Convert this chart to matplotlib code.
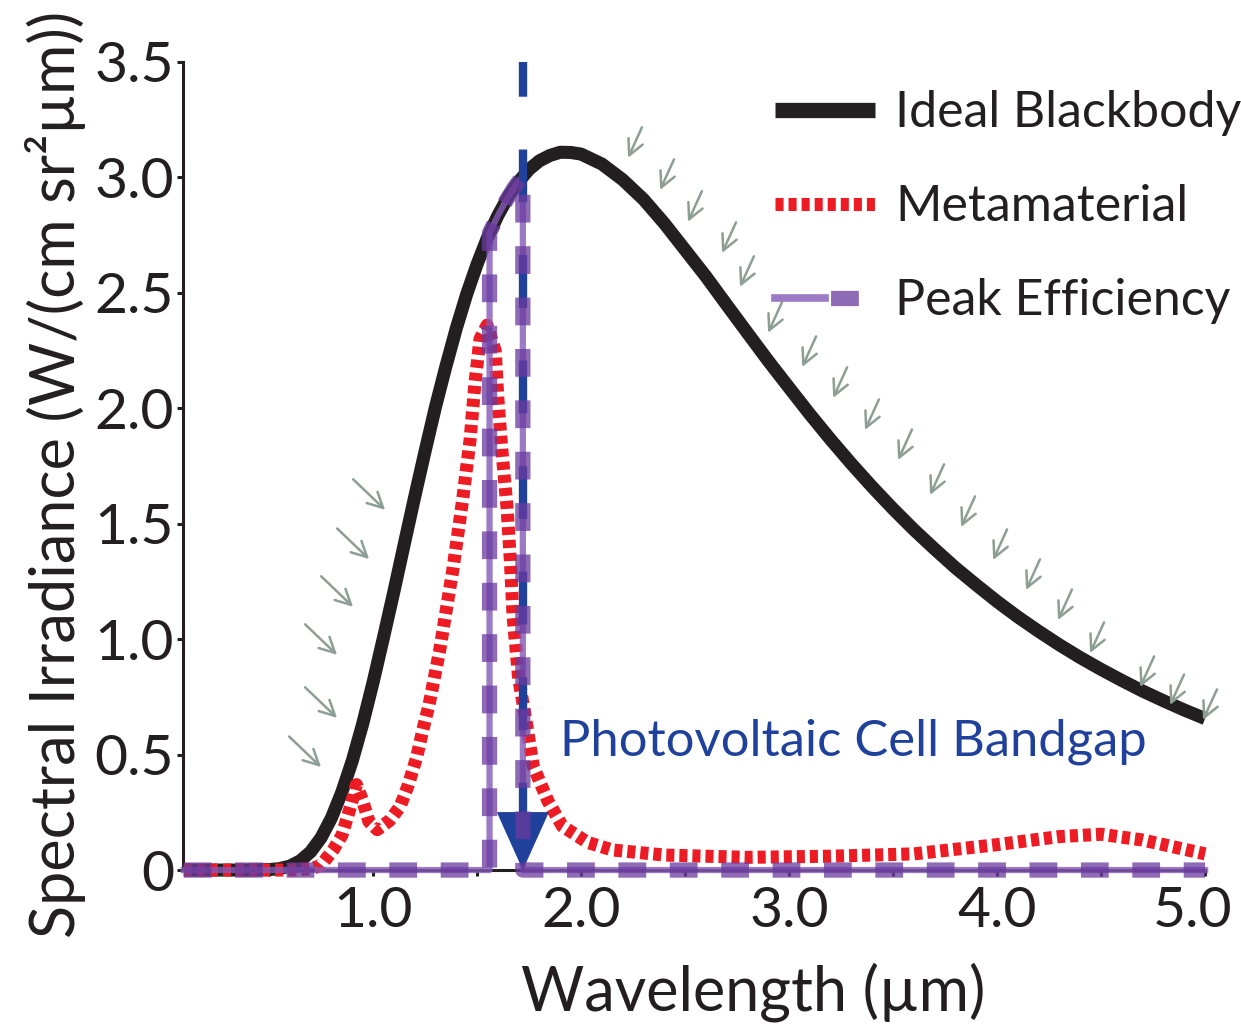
import matplotlib
matplotlib.use('Agg')
import matplotlib.pyplot as plt
from matplotlib.lines import Line2D
from matplotlib.legend_handler import HandlerTuple
from matplotlib.transforms import ScaledTranslation

plt.rcParams['font.family'] = ['Lato', 'DejaVu Sans']
plt.rcParams['lines.scale_dashes'] = False

# ideal blackbody curve (um, W/(cm^2 sr um))
bb_x = [0.09, 0.3, 0.4, 0.5, 0.55, 0.6, 0.65, 0.7, 0.75, 0.8, 0.85, 0.9, 0.95, 1.0,
        1.05, 1.1, 1.15, 1.2, 1.25, 1.3, 1.35, 1.4, 1.45, 1.5, 1.55, 1.6, 1.65, 1.7,
        1.75, 1.8, 1.85, 1.9, 1.95, 2.0, 2.1, 2.2, 2.3, 2.4, 2.5, 2.6, 2.7, 2.8, 2.9,
        3.0, 3.1, 3.2, 3.3, 3.4, 3.5, 3.6, 3.7, 3.8, 3.9, 4.0, 4.1, 4.2, 4.3, 4.4,
        4.5, 4.6, 4.7, 4.8, 4.9, 5.0]
bb_y = [0.0, 0.0, 0.0, 0.002, 0.006, 0.017, 0.040, 0.079, 0.140, 0.226, 0.338, 0.473, 0.633, 0.813,
        1.007, 1.206, 1.412, 1.616, 1.814, 2.006, 2.181, 2.346, 2.494, 2.624, 2.739, 2.835, 2.917, 2.982,
        3.035, 3.072, 3.095, 3.109, 3.108, 3.101, 3.058, 2.990, 2.905, 2.801, 2.686, 2.571, 2.448, 2.326, 2.205,
        2.089, 1.974, 1.864, 1.759, 1.659, 1.564, 1.474, 1.390, 1.309, 1.235, 1.163, 1.096, 1.034, 0.975, 0.920,
        0.869, 0.821, 0.775, 0.733, 0.693, 0.656]

# metamaterial emitter
mm_x = [0.09, 0.6, 0.7, 0.75, 0.81, 0.85, 0.89, 0.92, 0.95, 0.98, 1.02, 1.08, 1.13, 1.17,
        1.21, 1.24, 1.27, 1.32, 1.385, 1.43, 1.466, 1.49, 1.514, 1.548, 1.587, 1.60, 1.62,
        1.644, 1.66, 1.673, 1.70, 1.74, 1.77, 1.84, 1.91, 2.03, 2.15, 2.4, 2.8, 3.2, 3.6,
        4.0, 4.3, 4.5, 4.7, 5.0]
mm_y = [0.0, 0.0, 0.005, 0.02, 0.09, 0.15, 0.27, 0.37, 0.30, 0.21, 0.175, 0.215, 0.275, 0.37,
        0.49, 0.61, 0.72, 0.95, 1.31, 1.60, 1.86, 2.11, 2.30, 2.36, 2.25, 2.04, 1.81,
        1.57, 1.34, 1.10, 0.83, 0.62, 0.45, 0.30, 0.19, 0.12, 0.087, 0.065, 0.055, 0.06, 0.07,
        0.11, 0.145, 0.155, 0.13, 0.07]

# peak efficiency emitter (blackbody between 1.56 and 1.72 um)
pe_x = [0.09, 1.56, 1.56, 1.60, 1.64, 1.68, 1.72, 1.72, 5.0]
pe_y = [0.0, 0.0, 2.76, 2.835, 2.90, 2.958, 3.006, 0.0, 0.0]

gap_x = 1.72

# little grey arrows: tips of the ones pointing down-right / down-left
left_tips = [(1.058, 1.560), (0.981, 1.347), (0.904, 1.140), (0.827, 0.932),
             (0.827, 0.659), (0.750, 0.446)]
right_tips = [(2.226, 3.085), (2.380, 2.946), (2.514, 2.808), (2.678, 2.673), (2.764, 2.526),
              (2.899, 2.327), (3.063, 2.179), (3.212, 2.045), (3.365, 1.906), (3.524, 1.776),
              (3.678, 1.625), (3.827, 1.486), (3.981, 1.343), (4.139, 1.213), (4.293, 1.083),
              (4.447, 0.940), (4.688, 0.793), (4.832, 0.715), (4.990, 0.650)]

labels = ['Ideal Blackbody', 'Metamaterial', 'Peak Efficiency']

BLACK = '#231f20'
RED = '#ed1c24'
BLUE = '#1f419b'
PURPLE_L = '#8559b8'
PURPLE_D = '#6a3a9e'
GREY = '#8d9f95'

fig = plt.figure(figsize=(12.41, 10.26), dpi=100)
ax = fig.add_axes([0.1475, 0.152, 0.8236, 0.7876])

ax.plot(bb_x, bb_y, color=BLACK, lw=9.4, solid_capstyle='butt', solid_joinstyle='round',
        zorder=2, clip_on=False)
ax.plot(mm_x, mm_y, color=RED, lw=9.4, linestyle=(0, (5.8, 3.6)), dash_capstyle='butt',
        zorder=3, clip_on=False)

# peak efficiency: thin light line under the bandgap marker, thick dashes on top
ax.plot(pe_x, pe_y, color=PURPLE_L, alpha=0.8, lw=4.5, zorder=4, clip_on=False)

# bandgap marker
ax.plot([gap_x, gap_x], [3.5, 0.24], color=BLUE, lw=6, linestyle=(13, (38, 38)),
        dash_capstyle='butt', zorder=4.5, clip_on=False)
ax.annotate('', xy=(gap_x, 0), xytext=(gap_x, 0.24),
            arrowprops=dict(arrowstyle='-|>,head_length=2.0,head_width=0.9', mutation_scale=20,
                            color=BLUE, lw=1, shrinkA=0, shrinkB=0), zorder=4.5)

ax.plot(pe_x, pe_y, color=PURPLE_D, alpha=0.75, lw=11, linestyle=(0, (20, 17)),
        dash_capstyle='butt', zorder=5, clip_on=False)

ax.text(1.90, 0.555, 'Photovoltaic Cell Bandgap', color=BLUE, fontsize=36.5,
        va='center', ha='left')

aprops = dict(arrowstyle='->,head_length=0.55,head_width=0.28', mutation_scale=20,
              color=GREY, lw=1.8, shrinkA=0, shrinkB=0)
for x, y in left_tips:
    ax.annotate('', xy=(x, y), xytext=(-23, 22), textcoords='offset points', arrowprops=aprops)
for x, y in right_tips:
    ax.annotate('', xy=(x, y), xytext=(10, 22), textcoords='offset points', arrowprops=aprops)

ax.set_xlim(0.0865, 5.0)
ax.set_ylim(0, 3.5)
ax.set_xticks([1, 2, 3, 4, 5])
ax.set_xticklabels(['1.0', '2.0', '3.0', '4.0', '5.0'])
ax.set_xticks([0.5, 1.5, 2.5, 3.5, 4.5], minor=True)
ax.set_yticks([0, 0.5, 1.0, 1.5, 2.0, 2.5, 3.0, 3.5])
ax.set_yticklabels(['0', '0.5', '1.0', '1.5', '2.0', '2.5', '3.0', '3.5'])
ax.tick_params(axis='both', which='both', direction='out', length=4.5, width=2.2,
               color=BLACK, labelcolor=BLACK, labelsize=41)
ax.tick_params(axis='x', which='major', pad=7)
ax.tick_params(axis='y', pad=2)

# last x label sits a bit left of its tick so it stays inside the figure
last = ax.get_xticklabels()[-1]
last.set_transform(last.get_transform() + ScaledTranslation(-0.12, 0, fig.dpi_scale_trans))

for side in ['top', 'right']:
    ax.spines[side].set_visible(False)
for side in ['left', 'bottom']:
    ax.spines[side].set_linewidth(2.2)
    ax.spines[side].set_color(BLACK)

ax.set_xlabel('Wavelength (µm)', fontsize=44, color=BLACK, labelpad=18)
ax.set_ylabel('Spectral Irradiance (W/(cm sr²µm))', fontsize=44, color=BLACK, labelpad=6)
ax.xaxis.label.set_x(0.558)
ax.yaxis.label.set_y(0.489)

h_bb = Line2D([], [], color=BLACK, lw=11, solid_capstyle='butt')
h_mm = Line2D([], [], color=RED, lw=9.4, linestyle=(0, (5.8, 3.6)), dash_capstyle='butt')
h_pe1 = Line2D([], [], color=PURPLE_L, alpha=0.8, lw=5.5)
h_pe2 = Line2D([], [], color=PURPLE_D, alpha=0.75, lw=11, linestyle=(33, (20, 17)),
               dash_capstyle='butt')
leg = ax.legend([h_bb, h_mm, (h_pe1, h_pe2)], labels,
                handler_map={tuple: HandlerTuple(ndivide=None, pad=0)},
                loc='upper left', bbox_to_anchor=(0.6245, 0.912), bbox_transform=fig.transFigure,
                frameon=False, fontsize=36, handlelength=2.0, handletextpad=0.4,
                labelspacing=0.96, borderpad=0, borderaxespad=0)
for t in leg.get_texts():
    t.set_color(BLACK)

fig.savefig('out.png', dpi=100)
